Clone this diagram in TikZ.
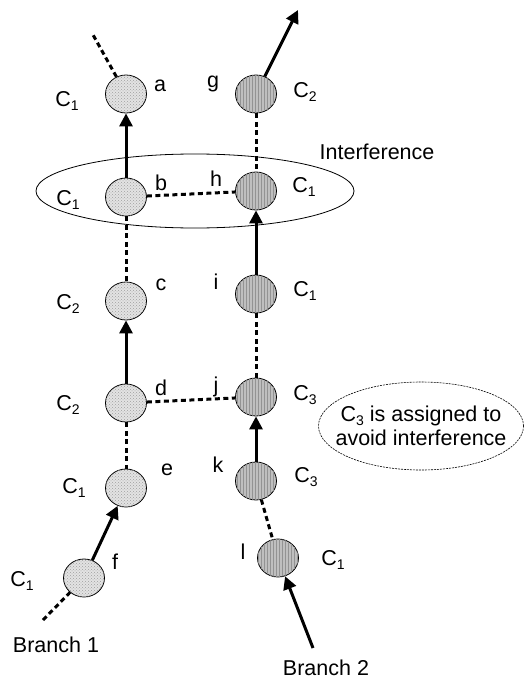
\documentclass[tikz,border=0pt]{standalone}
\usepackage{fontspec}
\setmainfont{Liberation Sans}
\usetikzlibrary{shapes,patterns}
\usetikzlibrary{arrows.meta}
\tikzset{>={Triangle[width=13pt,length=13pt]}}
\newcommand{\Ch}[1]{C\raisebox{-0.35ex}{\fontsize{14}{14}\selectfont #1}}

\begin{document}
\begin{tikzpicture}[x=1pt, y=-1pt]
      \tikzstyle{every node} = [font=\fontsize{21.5}{24}\selectfont]
      \tikzstyle{lnode} = [draw=black, ellipse, line width=0.8pt, minimum width=41pt, minimum height=38pt, inner sep=0pt, fill=gray!22, postaction={pattern=crosshatch dots, pattern color=gray!75}]
      \tikzstyle{rnode} = [draw=black, ellipse, line width=0.8pt, minimum width=41pt, minimum height=38pt, inner sep=0pt, fill=gray!50, postaction={pattern=vertical lines, pattern color=gray!85}]
      \tikzstyle{hop} = [->, line width=3pt]
      \tikzstyle{link} = [line width=3pt, dash pattern=on 5pt off 3.5pt]

      \useasboundingbox (0,0) rectangle (525,682);

      %%%%%%%%%%%%%%%%%%%%%%%%%%%%%%
      %% The interference region
      %%%%%%%%%%%%%%%%%%%%%%%%%%%%%%
      \node[draw, ellipse, line width=0.8pt, minimum width=318pt, minimum height=74pt] (intf) at (195,191) {};
      \node (intflab) at (377,152) {Interference};

      %%%%%%%%%%%%%%%%%%%%%%%%%%%%%%
      %% Branch 1
      %%%%%%%%%%%%%%%%%%%%%%%%%%%%%%
      \node[lnode] (a) at (126,94) {};
      \node[lnode] (b) at (126,197) {};
      \node[lnode] (c) at (126,301) {};
      \node[lnode] (d) at (126,403) {};
      \node[lnode] (e) at (126,488) {};
      \node[lnode] (f) at (84,578) {};

      \node (la) at (160,86) {a};
      \node (lb) at (161,183) {b};
      \node (lc) at (161,285) {c};
      \node (ld) at (161,388) {d};
      \node (le) at (167,470) {e};
      \node (lf) at (115,562) {f};

      \node (ca) at (67,101) {\Ch{1}};
      \node (cb) at (68,200) {\Ch{1}};
      \node (cc) at (68,304) {\Ch{2}};
      \node (cd) at (68,405) {\Ch{2}};
      \node (ce) at (74,488) {\Ch{1}};
      \node (cf) at (22,581) {\Ch{1}};

      \coordinate (aout) at (92,33);
      \coordinate (fin) at (43,620);
      \node (br1) at (56,645) {Branch 1};

      %%%%%%%%%%%%%%%%%%%%%%%%%%%%%%
      %% Branch 2
      %%%%%%%%%%%%%%%%%%%%%%%%%%%%%%
      \node[rnode] (g) at (256,94) {};
      \node[rnode] (h) at (256,191) {};
      \node[rnode] (i) at (256,294) {};
      \node[rnode] (j) at (256,397) {};
      \node[rnode] (k) at (256,481) {};
      \node[rnode] (l) at (278,558) {};

      \node (lg) at (213,84) {g};
      \node (lh) at (216,179) {h};
      \node (li) at (216,282) {i};
      \node (lj) at (216,387) {j};
      \node (lk) at (218,465) {k};
      \node (ll) at (243,552) {l};

      \node (cg) at (305,92) {\Ch{2}};
      \node (ch) at (304,187) {\Ch{1}};
      \node (ci) at (305,291) {\Ch{1}};
      \node (cj) at (305,395) {\Ch{3}};
      \node (ck) at (306,477) {\Ch{3}};
      \node (cl) at (333,560) {\Ch{1}};

      \coordinate (gout) at (298,10);
      \coordinate (lin) at (313,648);
      \node (br2) at (326,668) {Branch 2};

      %%%%%%%%%%%%%%%%%%%%%%%%%%%%%%
      %% Note
      %%%%%%%%%%%%%%%%%%%%%%%%%%%%%%
      \node[inner sep=0pt, align=center] (note) at (421,426) {\Ch{3} is assigned to\\avoid interference};
      \draw[line width=0.6pt, dash pattern=on 2pt off 1pt] (note.center) ellipse (102.5pt and 44pt);

      % edges of branch 1
      \draw[link] (a) -- (aout);
      \draw[hop] (b) -- (a);
      \draw[link] (b) -- (c);
      \draw[hop] (d) -- (c);
      \draw[link] (d) -- (e);
      \draw[hop] (f) -- (e);
      \draw[link] (fin) -- (f);

      % edges of branch 2
      \draw[hop] (g) -- (gout);
      \draw[link] (g) -- (h);
      \draw[hop] (i) -- (h);
      \draw[link] (i) -- (j);
      \draw[hop] (k) -- (j);
      \draw[link] (k) -- (l);
      \draw[hop] (lin) -- (l);

      % interference links
      \draw[link] (b) -- (h);
      \draw[link] (d) -- (j);

\end{tikzpicture}
\end{document}
